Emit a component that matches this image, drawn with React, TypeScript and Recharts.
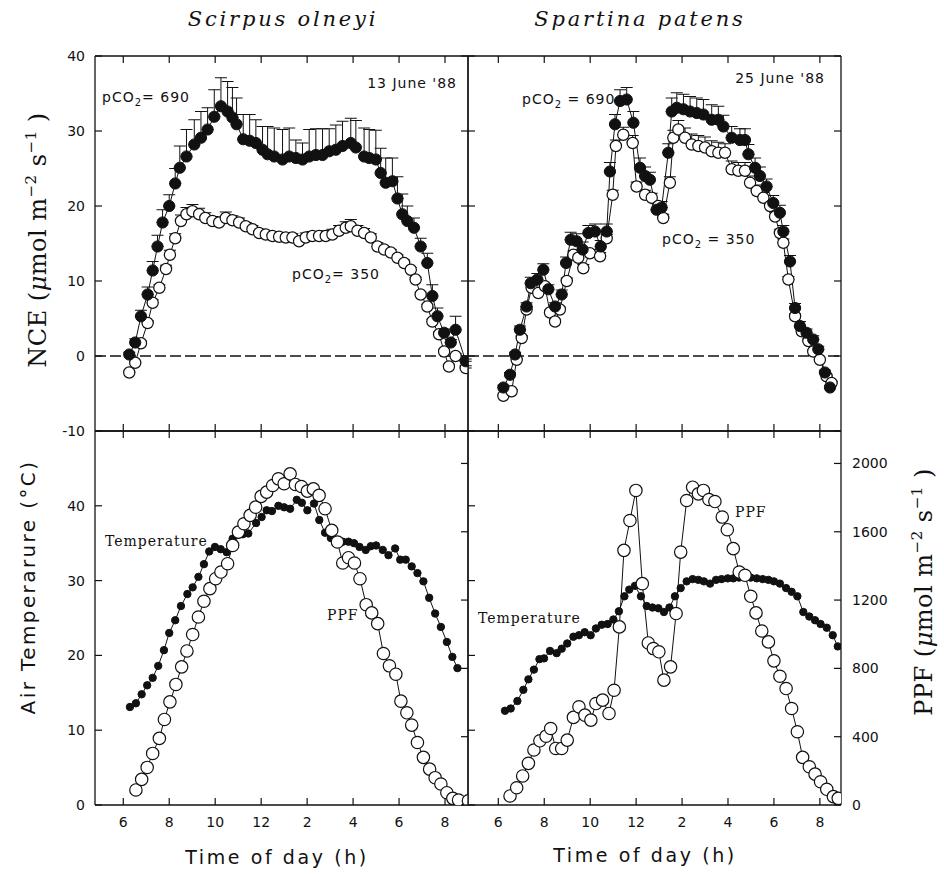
import React from 'react';
import { ComposedChart, Line, XAxis, YAxis, ReferenceLine, ErrorBar } from 'recharts';

// Scirpus olneyi, NCE on 13 June '88 (hours of day, umol m-2 s-1)
const scH690 = [6.26, 6.52, 6.77, 7.06, 7.28, 7.49, 7.71, 8.0, 8.26, 8.46, 8.75, 9.09, 9.38, 9.67, 9.96, 10.25, 10.54, 10.75, 10.93, 11.22, 11.5, 11.77, 12.06, 12.28, 12.57, 12.93, 13.22, 13.51, 13.8, 14.09, 14.38, 14.67, 14.96, 15.25, 15.54, 15.9, 16.12, 16.48, 16.7, 16.99, 17.2, 17.42, 17.71, 17.93, 18.14, 18.36, 18.65, 18.94, 19.23, 19.45, 19.67, 19.96, 20.25, 20.46, 20.9];
const scNce690 = [0.2, 1.8, 5.3, 8.2, 11.4, 14.6, 17.8, 20.0, 23.0, 25.1, 26.6, 28.2, 29.1, 30.2, 31.9, 33.3, 32.6, 31.8, 30.9, 28.9, 28.7, 28.4, 27.5, 26.9, 26.6, 26.2, 26.6, 26.4, 26.2, 26.6, 26.8, 26.8, 27.3, 27.5, 28.0, 28.4, 27.8, 26.6, 26.4, 26.2, 24.4, 23.1, 23.3, 21.0, 18.9, 18.0, 17.1, 14.6, 12.4, 8.0, 5.3, 3.1, 1.8, 3.5, -0.7];
const scErr690 = [0.3, 0.5, 0.8, 1.0, 1.2, 1.5, 1.7, 1.5, 2.0, 2.9, 3.6, 3.3, 3.5, 2.9, 3.6, 3.8, 4.0, 4.0, 3.5, 3.3, 3.5, 3.1, 3.1, 3.7, 3.8, 4.0, 3.8, 2.4, 2.2, 3.6, 3.5, 3.5, 3.0, 3.3, 3.3, 3.3, 3.6, 3.8, 3.8, 3.9, 3.3, 3.3, 3.1, 2.9, 2.7, 2.0, 1.3, 1.1, 1.3, 1.5, 1.1, 0.5, 0.4, 1.8, 0.3];
const scH350 = [6.26, 6.52, 6.77, 7.06, 7.28, 7.57, 7.86, 8.03, 8.26, 8.51, 8.75, 9.01, 9.3, 9.57, 9.88, 10.17, 10.46, 10.75, 11.04, 11.33, 11.62, 11.91, 12.2, 12.49, 12.78, 13.07, 13.36, 13.65, 13.94, 14.23, 14.52, 14.81, 15.1, 15.39, 15.68, 15.9, 16.19, 16.48, 16.77, 17.06, 17.35, 17.64, 17.93, 18.22, 18.51, 18.72, 18.94, 19.23, 19.45, 19.74, 19.96, 20.17, 20.46, 20.9];
const scNce350 = [-2.2, -0.9, 1.7, 4.4, 7.1, 9.1, 11.6, 13.5, 15.7, 18.0, 18.9, 19.3, 18.9, 18.4, 18.0, 17.8, 18.4, 18.1, 17.8, 17.3, 16.9, 16.4, 16.2, 16.0, 15.9, 15.8, 15.8, 15.3, 15.8, 16.0, 16.0, 16.0, 16.2, 16.7, 17.1, 17.3, 16.7, 16.4, 15.8, 14.6, 14.2, 13.8, 13.1, 12.4, 11.5, 10.2, 8.2, 6.6, 4.6, 2.9, 0.6, -1.4, 0, -1.6];
const scErr350 = [0.2, 0.2, 0.3, 0.3, 0.4, 0.4, 0.5, 0.6, 0.6, 0.8, 0.9, 0.9, 0.8, 0.7, 0.6, 0.6, 0.8, 0.6, 0.6, 0.5, 0.5, 0.5, 0.5, 0.5, 0.5, 0.5, 0.5, 0.5, 0.6, 0.6, 0.6, 0.7, 0.7, 0.7, 0.8, 0.9, 0.7, 0.6, 0.5, 0.5, 0.4, 0.4, 0.4, 0.4, 0.3, 0.3, 0.3, 0.3, 0.3, 0.3, 0.3, 0.3, 0.3, 0.3];

// Spartina patens, NCE on 25 June '88
const spH690 = [6.22, 6.51, 6.73, 6.94, 7.23, 7.41, 7.7, 7.96, 8.18, 8.47, 8.76, 8.95, 9.15, 9.41, 9.67, 9.92, 10.21, 10.46, 10.72, 10.86, 11.08, 11.3, 11.59, 11.88, 12.17, 12.39, 12.6, 12.89, 13.11, 13.4, 13.55, 13.77, 14.06, 14.35, 14.64, 14.93, 15.29, 15.58, 15.8, 16.16, 16.52, 16.74, 16.89, 17.18, 17.39, 17.68, 17.97, 18.26, 18.41, 18.7, 18.92, 19.13, 19.42, 19.71, 19.93, 20.22, 20.44];
const spNce690 = [-4.2, -2.5, 0.2, 3.5, 6.6, 9.7, 10.2, 11.5, 8.9, 6.6, 8.2, 12.4, 15.5, 15.3, 14.2, 16.4, 16.6, 14.6, 16.6, 24.6, 30.9, 34.0, 34.2, 31.1, 25.1, 24.0, 23.5, 19.5, 19.8, 27.1, 32.6, 33.1, 32.9, 32.6, 32.4, 32.2, 31.5, 31.5, 30.6, 29.1, 28.8, 28.8, 26.9, 25.1, 24.0, 22.6, 20.4, 19.1, 16.6, 12.6, 6.4, 4.0, 3.1, 2.2, 0.9, -2.2, -4.2];
const spErr690 = [0.3, 0.3, 0.3, 0.5, 0.5, 0.8, 0.8, 0.8, 0.6, 0.5, 0.6, 0.8, 1.0, 1.0, 1.0, 1.0, 1.0, 0.8, 1.0, 1.2, 1.3, 1.5, 1.6, 1.5, 1.3, 1.2, 1.0, 0.8, 0.8, 1.2, 1.8, 2.0, 2.0, 2.0, 2.0, 2.0, 2.0, 1.8, 1.5, 1.5, 1.5, 1.5, 1.3, 1.3, 1.2, 1.0, 1.0, 1.0, 0.8, 0.8, 0.6, 0.6, 0.5, 0.5, 0.4, 0.3, 0.3];
const spH350 = [6.22, 6.58, 6.8, 7.02, 7.23, 7.45, 7.74, 8.03, 8.25, 8.47, 8.68, 8.98, 9.27, 9.48, 9.7, 9.99, 10.43, 10.72, 10.98, 11.12, 11.44, 11.85, 12.02, 12.39, 12.68, 12.97, 13.18, 13.47, 13.62, 13.84, 14.13, 14.42, 14.71, 15.0, 15.29, 15.58, 15.87, 16.16, 16.45, 16.74, 16.96, 17.25, 17.54, 17.83, 18.05, 18.26, 18.41, 18.63, 18.92, 19.21, 19.5, 19.71, 20.0, 20.29, 20.51];
const spNce350 = [-5.3, -4.7, -0.5, 2.4, 6.2, 9.1, 8.4, 9.3, 5.8, 4.6, 6.2, 10.0, 13.5, 13.1, 11.7, 13.7, 13.3, 15.7, 21.5, 28.0, 29.5, 28.4, 22.6, 21.5, 21.1, 20.0, 18.4, 23.1, 29.1, 30.2, 29.1, 28.2, 28.0, 27.8, 27.3, 27.1, 27.1, 24.9, 24.7, 24.7, 23.1, 22.0, 21.1, 20.0, 18.6, 16.4, 15.1, 10.2, 5.3, 3.3, 2.0, 0.6, -0.5, -2.7, -3.6];
const spErr350 = [0.2, 0.2, 0.2, 0.3, 0.3, 0.3, 0.3, 0.3, 0.3, 0.3, 0.3, 0.4, 0.5, 0.5, 0.5, 0.5, 0.5, 0.5, 0.6, 0.8, 1.0, 1.0, 0.6, 0.6, 0.6, 0.5, 0.5, 0.8, 1.0, 1.2, 1.3, 1.4, 1.4, 1.4, 1.4, 1.4, 1.2, 1.1, 1.1, 1.1, 0.9, 0.8, 0.7, 0.6, 0.5, 0.5, 0.5, 0.4, 0.3, 0.3, 0.3, 0.2, 0.2, 0.2, 0.2];

// Scirpus site: air temperature (C) and PPF (umol m-2 s-1)
const scTempH = [6.29, 6.55, 6.8, 7.04, 7.28, 7.52, 7.77, 8.0, 8.26, 8.51, 8.79, 9.02, 9.27, 9.51, 9.74, 9.99, 10.24, 10.5, 10.76, 10.96, 11.2, 11.44, 11.78, 12.02, 12.24, 12.47, 12.75, 13.0, 13.26, 13.55, 13.77, 14.01, 14.3, 14.53, 14.78, 15.03, 15.29, 15.55, 15.8, 16.04, 16.28, 16.55, 16.77, 17.0, 17.29, 17.54, 17.83, 18.05, 18.29, 18.55, 18.8, 19.06, 19.31, 19.57, 19.82, 20.08, 20.32, 20.54];
const scTemp = [13.1, 13.6, 14.8, 16.0, 17.0, 18.6, 20.7, 23.0, 24.7, 26.6, 28.2, 29.1, 30.5, 32.2, 33.9, 34.5, 34.2, 33.8, 35.6, 36.1, 36.2, 36.3, 37.7, 38.5, 39.4, 39.3, 40.0, 39.8, 39.6, 40.8, 40.4, 39.4, 40.3, 38.1, 36.4, 35.7, 35.4, 35.2, 35.2, 35.0, 34.5, 34.1, 34.6, 34.7, 34.1, 33.4, 34.3, 32.8, 32.8, 31.9, 31.0, 29.9, 27.7, 25.6, 23.8, 21.8, 19.8, 18.3];
const scPpfH = [6.55, 6.8, 7.04, 7.28, 7.57, 7.79, 8.03, 8.29, 8.54, 8.77, 9.02, 9.27, 9.51, 9.77, 10.02, 10.25, 10.54, 10.76, 11.01, 11.25, 11.52, 11.76, 12.0, 12.24, 12.5, 12.75, 13.0, 13.26, 13.49, 13.75, 14.01, 14.27, 14.52, 14.78, 15.07, 15.32, 15.55, 15.8, 16.06, 16.3, 16.57, 16.81, 17.07, 17.32, 17.58, 17.86, 18.08, 18.34, 18.55, 18.8, 19.06, 19.33, 19.57, 19.82, 20.08, 20.34, 20.59, 21.02];
const scPpf = [88, 150, 220, 302, 390, 501, 604, 706, 809, 902, 998, 1101, 1193, 1267, 1325, 1364, 1413, 1520, 1598, 1647, 1696, 1744, 1807, 1832, 1871, 1910, 1881, 1939, 1877, 1865, 1838, 1851, 1813, 1735, 1608, 1540, 1417, 1448, 1417, 1325, 1173, 1125, 1062, 887, 815, 766, 608, 540, 468, 366, 279, 210, 160, 123, 72, 39, 29, 25];

// Spartina site: air temperature and PPF
const spTempH = [6.29, 6.54, 6.83, 7.09, 7.31, 7.55, 7.79, 7.99, 8.25, 8.54, 8.76, 9.0, 9.27, 9.51, 9.76, 10.02, 10.25, 10.5, 10.76, 11.01, 11.25, 11.49, 11.7, 11.95, 12.21, 12.46, 12.71, 12.97, 13.21, 13.45, 13.69, 13.94, 14.2, 14.46, 14.71, 14.95, 15.22, 15.48, 15.72, 15.99, 16.23, 16.48, 16.74, 16.99, 17.25, 17.51, 17.76, 18.0, 18.26, 18.53, 18.77, 19.02, 19.28, 19.54, 19.79, 20.03, 20.3, 20.56, 20.78];
const spTemp = [12.6, 12.9, 13.9, 15.4, 16.8, 18.1, 19.5, 19.6, 20.6, 20.3, 20.9, 21.6, 22.5, 22.7, 23.1, 22.7, 23.6, 24.1, 24.2, 24.8, 25.9, 27.9, 28.8, 29.3, 27.9, 26.6, 26.4, 26.3, 25.8, 26.4, 27.9, 29.0, 29.9, 30.2, 30.1, 29.9, 29.6, 30.1, 30.2, 30.3, 30.3, 30.4, 30.5, 30.4, 30.3, 30.2, 30.1, 29.9, 29.6, 29.0, 28.5, 27.9, 25.8, 25.2, 24.7, 24.2, 23.7, 22.7, 21.2];
const spPpfH = [6.51, 6.8, 7.06, 7.31, 7.55, 7.81, 8.08, 8.28, 8.5, 8.76, 9.0, 9.27, 9.51, 9.77, 10.03, 10.25, 10.54, 10.82, 11.04, 11.27, 11.47, 11.73, 11.99, 12.27, 12.53, 12.75, 12.99, 13.21, 13.5, 13.74, 13.94, 14.2, 14.46, 14.71, 14.93, 15.17, 15.43, 15.75, 15.97, 16.23, 16.49, 16.74, 16.99, 17.22, 17.47, 17.76, 18.0, 18.26, 18.53, 18.77, 19.02, 19.25, 19.54, 19.79, 20.03, 20.3, 20.59, 20.8];
const spPpf = [53, 101, 170, 244, 322, 376, 403, 448, 331, 331, 380, 513, 575, 526, 497, 594, 614, 536, 672, 1043, 1491, 1666, 1842, 1296, 949, 916, 897, 731, 809, 1121, 1481, 1783, 1861, 1822, 1842, 1789, 1777, 1686, 1612, 1501, 1364, 1345, 1222, 1125, 1019, 955, 844, 754, 682, 565, 429, 279, 224, 181, 136, 92, 49, 39];

const hourTicks = [6, 8, 10, 12, 14, 16, 18, 20];
const nceTicks = [-10, 0, 10, 20, 30, 40];
const tempTicks = [0, 10, 20, 30, 40];
const ppfTicks = [0, 400, 800, 1200, 1600, 2000];

const rows = (h: number[], v: number[], e?: number[]) =>
  h.map((x, i) => ({ h: x, v: v[i], e: [0, e ? e[i] ?? 0 : 0] }));

const INK = '#111';
const sans = '"DejaVu Sans", Verdana, sans-serif';
const serif = '"DejaVu Serif", serif';
const frame = { stroke: INK, strokeWidth: 1.3 };
const TICK = 7;

const hourFmt = (v: number) => String(v > 12 ? v - 12 : v);

// tick mark pointing into the plot, with optional label outside
const tickMark = (side: 'top' | 'bottom' | 'left' | 'right', fmt?: (v: number) => string) => (p: any) => {
  const { x, y, payload } = p;
  let x2 = x, y2 = y;
  if (side === 'top') y2 = y + TICK;
  if (side === 'bottom') y2 = y - TICK;
  if (side === 'left') x2 = x + TICK;
  if (side === 'right') x2 = x - TICK;
  let label = null;
  if (fmt) {
    const s = fmt(payload.value);
    if (side === 'bottom') label = <text x={x} y={y + 22} textAnchor="middle" fontFamily={sans} fontSize={14} fill={INK}>{s}</text>;
    if (side === 'left') label = <text x={x - 10} y={y + 5} textAnchor="end" fontFamily={sans} fontSize={14} fill={INK}>{s}</text>;
    if (side === 'right') label = <text x={x + 11} y={y + 5} textAnchor="start" fontFamily={sans} fontSize={14} fill={INK}>{s}</text>;
  }
  return (
    <g>
      <line x1={x} y1={y} x2={x2} y2={y2} stroke={INK} strokeWidth={1.2} />
      {label}
    </g>
  );
};

type PanelProps = {
  left: number; top: number; width: number; height: number;
  margin: { top: number; right: number; bottom: number; left: number };
  xDomain: [number, number];
  lDomain: [number, number]; lTicks: number[]; lLabels?: boolean;
  rDomain: [number, number]; rTicks: number[]; rLabels?: boolean;
  xLabels?: boolean;
  children: React.ReactNode;
};

// every axis is 1px thick, so the margins below are one pixel short of the frame
function Panel(p: PanelProps) {
  return (
    <div style={{ position: 'absolute', left: p.left, top: p.top }}>
      <ComposedChart width={p.width} height={p.height} margin={p.margin}>
        <XAxis xAxisId="b" type="number" dataKey="h" orientation="bottom" domain={p.xDomain} allowDataOverflow
          ticks={hourTicks} interval={0} height={1} tickSize={0} tickMargin={0} tickLine={false} axisLine={frame}
          tick={tickMark('bottom', p.xLabels ? hourFmt : undefined)} />
        <XAxis xAxisId="t" type="number" dataKey="h" orientation="top" domain={p.xDomain} allowDataOverflow
          ticks={hourTicks} interval={0} height={1} tickSize={0} tickMargin={0} tickLine={false} axisLine={frame}
          tick={tickMark('top')} />
        <YAxis yAxisId="l" type="number" dataKey="v" orientation="left" domain={p.lDomain} allowDataOverflow
          ticks={p.lTicks} interval={0} width={1} tickSize={0} tickMargin={0} tickLine={false} axisLine={frame}
          tick={tickMark('left', p.lLabels ? (v: number) => String(v) : undefined)} />
        <YAxis yAxisId="r" type="number" dataKey="v" orientation="right" domain={p.rDomain} allowDataOverflow
          ticks={p.rTicks} interval={0} width={1} tickSize={0} tickMargin={0} tickLine={false} axisLine={frame}
          tick={tickMark('right', p.rLabels ? (v: number) => String(v) : undefined)} />
        {p.children}
      </ComposedChart>
    </div>
  );
}

const filled = (r: number) => ({ r, fill: INK, stroke: INK, strokeWidth: 1 });
const open = (r: number) => ({ r, fill: '#fff', stroke: INK, strokeWidth: 1.2 });

const leftX: [number, number] = [4.77, 21.0];
const rightX: [number, number] = [4.68, 20.92];
const nceDom: [number, number] = [-10, 40];
const tempDom: [number, number] = [0, 50];
const ppfDom: [number, number] = [0, 2190];

const topMarginL = { top: 55, left: 94, right: 11, bottom: 8 };
const topMarginR = { top: 55, left: 11, right: 102, bottom: 8 };
const botMarginL = { top: 10, left: 94, right: 11, bottom: 68 };
const botMarginR = { top: 10, left: 11, right: 102, bottom: 68 };

const zeroLine = (
  <ReferenceLine key="z" xAxisId="b" yAxisId="l" y={0} stroke={INK} strokeWidth={1.3} strokeDasharray="11 4" />
);

const ncePair = (d350: any[], d690: any[]) => [
  zeroLine,
  <Line key="o" xAxisId="b" yAxisId="l" data={d350} dataKey="v" type="linear" stroke={INK} strokeWidth={1}
    dot={open(5.6)} activeDot={false} isAnimationActive={false}>
    <ErrorBar dataKey="e" direction="y" width={6} stroke={INK} strokeWidth={1} isAnimationActive={false} />
  </Line>,
  <Line key="f" xAxisId="t" yAxisId="r" data={d690} dataKey="v" type="linear" stroke={INK} strokeWidth={1}
    dot={filled(5.6)} activeDot={false} isAnimationActive={false}>
    <ErrorBar dataKey="e" direction="y" width={6} stroke={INK} strokeWidth={1} isAnimationActive={false} />
  </Line>,
];

const climatePair = (temp: any[], ppf: any[]) => [
  <Line key="t" xAxisId="b" yAxisId="l" data={temp} dataKey="v" type="linear" stroke={INK} strokeWidth={1}
    dot={filled(3.7)} activeDot={false} isAnimationActive={false} />,
  <Line key="p" xAxisId="t" yAxisId="r" data={ppf} dataKey="v" type="linear" stroke={INK} strokeWidth={1}
    dot={open(6.2)} activeDot={false} isAnimationActive={false} />,
];

const Sup = ({ children }: { children: React.ReactNode }) => (
  <tspan dy={-10} fontSize={15}>{children}</tspan>
);

export default function App() {
  const sc690 = rows(scH690, scNce690, scErr690);
  const sc350 = rows(scH350, scNce350, scErr350);
  const sp690 = rows(spH690, spNce690, spErr690);
  const sp350 = rows(spH350, spNce350, spErr350);
  const scT = rows(scTempH, scTemp);
  const scP = rows(scPpfH, scPpf);
  const spT = rows(spTempH, spTemp);
  const spP = rows(spPpfH, spPpf);

  const note = { fontFamily: sans, fontSize: 14, fill: INK, letterSpacing: 1 } as const;
  const curve = { fontFamily: serif, fontSize: 14, fill: INK, letterSpacing: 1 } as const;

  return (
    <div style={{ position: 'absolute', left: 0, top: 0, width: 944, height: 874, background: '#fff' }}>
      <Panel left={0} top={0} width={480} height={440} margin={topMarginL} xDomain={leftX}
        lDomain={nceDom} lTicks={nceTicks} lLabels rDomain={nceDom} rTicks={nceTicks}>
        {ncePair(sc350, sc690)}
      </Panel>
      <Panel left={456} top={0} width={488} height={440} margin={topMarginR} xDomain={rightX}
        lDomain={nceDom} lTicks={nceTicks} rDomain={nceDom} rTicks={nceTicks}>
        {ncePair(sp350, sp690)}
      </Panel>
      <Panel left={0} top={420} width={480} height={454} margin={botMarginL} xDomain={leftX} xLabels
        lDomain={tempDom} lTicks={tempTicks} lLabels rDomain={ppfDom} rTicks={ppfTicks}>
        {climatePair(scT, scP)}
      </Panel>
      <Panel left={456} top={420} width={488} height={454} margin={botMarginR} xDomain={rightX} xLabels
        lDomain={tempDom} lTicks={tempTicks} rDomain={ppfDom} rTicks={ppfTicks} rLabels>
        {climatePair(spT, spP)}
      </Panel>

      <svg width={944} height={874} style={{ position: 'absolute', left: 0, top: 0, pointerEvents: 'none' }}>
        <text x={283} y={26} textAnchor="middle" fontFamily={serif} fontStyle="italic" fontSize={21} letterSpacing={2.8} fill={INK}>Scirpus olneyi</text>
        <text x={640} y={26} textAnchor="middle" fontFamily={serif} fontStyle="italic" fontSize={21} letterSpacing={2.8} fill={INK}>Spartina patens</text>

        <text transform="translate(46,240) rotate(-90)" textAnchor="middle" fontFamily={serif} fontSize={24} letterSpacing={0.5} fill={INK}>
          NCE (<tspan fontStyle="italic">μ</tspan>mol m<Sup>−2</Sup><tspan dy={10}>  s</tspan><Sup>−1</Sup><tspan dy={10}> )</tspan>
        </text>
        <text transform="translate(35,587) rotate(-90)" textAnchor="middle" fontFamily={sans} fontSize={20} letterSpacing={2.4} fill={INK}>
          Air Temperarure  (°C)
        </text>
        <text transform="translate(932,592) rotate(-90)" textAnchor="middle" fontFamily={serif} fontSize={24} letterSpacing={0.5} fill={INK}>
          PPF   (<tspan fontStyle="italic">μ</tspan>mol m<Sup>−2</Sup><tspan dy={10}>  s</tspan><Sup>−1</Sup><tspan dy={10}> )</tspan>
        </text>
        <text x={277} y={864} textAnchor="middle" fontFamily={sans} fontSize={19} letterSpacing={2.6} fill={INK}>Time of day (h)</text>
        <text x={645} y={862} textAnchor="middle" fontFamily={sans} fontSize={19} letterSpacing={2.6} fill={INK}>Time of day (h)</text>

        <text x={102} y={102} {...note}>pCO<tspan dy={4} fontSize={10}>2</tspan><tspan dy={-4}>= 690</tspan></text>
        <text x={457} y={88} textAnchor="end" {...note}>13 June '88</text>
        <text x={292} y={279} {...note}>pCO<tspan dy={4} fontSize={10}>2</tspan><tspan dy={-4}>= 350</tspan></text>
        <text x={825} y={83} textAnchor="end" {...note}>25 June '88</text>
        <text x={522} y={104} {...note}>pCO<tspan dy={4} fontSize={10}>2</tspan><tspan dy={-4}> = 690</tspan></text>
        <text x={662} y={244} {...note}>pCO<tspan dy={4} fontSize={10}>2</tspan><tspan dy={-4}> =  350</tspan></text>

        <text x={105} y={546} {...curve}>Temperature</text>
        <text x={327} y={620} {...curve}>PPF</text>
        <text x={478} y={623} {...curve}>Temperature</text>
        <text x={735} y={517} {...curve}>PPF</text>
      </svg>
    </div>
  );
}
